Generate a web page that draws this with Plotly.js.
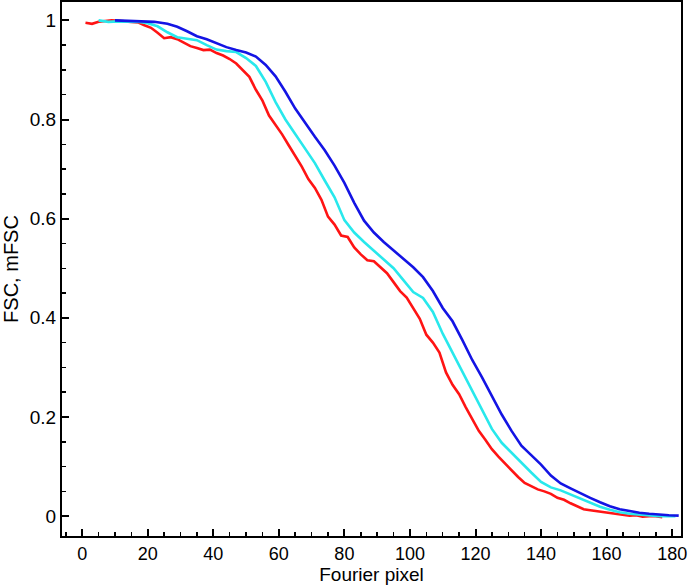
<!DOCTYPE html>
<html>
<head>
<meta charset="utf-8">
<script src="https://cdn.plot.ly/plotly-3.0.1.min.js"></script>
<style>
  html, body { margin: 0; padding: 0; background: #fff; }
  #fsc-plot { width: 688px; height: 586px; }
</style>
</head>
<body>
<div id="fsc-plot"></div>
<script>
// FSC (red), mFSC (cyan, blue)
var redX = [1,3,5,7,9,11,13,15,17,19,21,23,25,27,29,31,33,35,37,39,41,43,45,47,49,51,53,55,57,59,
  61,63,65,67,69,71,73,75,77,79,81,83,85,87,89,91,93,95,97,99,101,103,105,107,109,111,113,115,117,119,
  121,123,125,127,129,131,133,135,137,139,141,143,145,147,149,151,153,155,157,159,161,163,165,167,169,171,173,175,177];
var redY = [0.995,0.993,0.997,0.999,1.000,0.999,0.998,0.997,0.996,0.990,0.985,0.975,0.964,0.966,0.962,0.955,0.948,0.944,0.940,0.941,
  0.934,0.929,0.922,0.913,0.900,0.886,0.860,0.838,0.808,0.790,0.770,0.748,0.726,0.705,0.680,0.662,0.638,0.604,0.588,0.566,
  0.563,0.542,0.528,0.516,0.514,0.502,0.490,0.472,0.454,0.441,0.420,0.398,0.366,0.350,0.330,0.290,0.265,0.246,0.220,0.196,
  0.172,0.154,0.135,0.120,0.106,0.093,0.079,0.067,0.060,0.054,0.050,0.045,0.037,0.033,0.026,0.020,0.014,0.012,0.010,0.009,
  0.006,0.004,0.003,0.001,0.002,-0.001,0.000,0.000,-0.002];

var cyanX = [5,8,11,14,17,20,23,26,29,32,35,38,41,44,47,50,53,56,59,62,65,68,71,74,77,80,83,86,89,92,95,98,
  101,104,107,110,113,116,119,122,125,128,131,134,137,140,143,146,149,152,155,158,161,164,167,170,173,176,179,181];
var cyanY = [1.000,0.997,0.998,0.998,0.997,0.994,0.988,0.976,0.966,0.963,0.960,0.950,0.941,0.938,0.936,0.924,0.908,0.876,0.835,0.800,
  0.770,0.742,0.712,0.677,0.643,0.597,0.572,0.553,0.535,0.517,0.500,0.476,0.452,0.440,0.412,0.368,0.330,0.289,0.252,0.215,
  0.176,0.148,0.128,0.106,0.088,0.069,0.058,0.052,0.044,0.036,0.028,0.019,0.013,0.008,0.005,0.003,0.001,0.000,0.000,0.000];

var blueX = [10,14,18,22,26,29,32,35,38,41,44,47,50,53,56,59,62,65,68,71,74,77,80,83,86,89,92,95,98,
  101,104,107,110,113,116,119,122,125,128,131,134,137,140,143,146,149,152,155,158,161,164,167,170,173,176,179,182];
var blueY = [1.000,0.999,0.999,0.997,0.993,0.987,0.978,0.968,0.962,0.954,0.946,0.940,0.935,0.927,0.910,0.887,0.856,0.822,0.793,0.765,
  0.738,0.707,0.672,0.632,0.596,0.572,0.553,0.536,0.520,0.502,0.482,0.454,0.420,0.393,0.355,0.315,0.280,0.243,0.205,0.172,
  0.142,0.123,0.104,0.082,0.066,0.056,0.046,0.037,0.028,0.020,0.014,0.010,0.007,0.005,0.003,0.002,0.001];

var traces = [
  {x: redX, y: redY, type: "scatter", mode: "lines", line: {color: "rgb(255,20,20)", width: 2.6}},
  {x: cyanX, y: cyanY, type: "scatter", mode: "lines", line: {color: "rgb(40,232,236)", width: 2.6}},
  {x: blueX, y: blueY, type: "scatter", mode: "lines", line: {color: "rgb(20,20,228)", width: 2.6}}
];

var fontFam = "Liberation Sans, Arial, sans-serif";
var axisStyle = {
  showline: true, mirror: true, linecolor: "#000", linewidth: 2,
  showgrid: false, zeroline: false,
  ticks: "inside", ticklen: 7, tickwidth: 2, tickcolor: "#000",
  tickfont: {family: fontFam, size: 19, color: "#000"}
};

var layout = {
  width: 688, height: 586,
  margin: {l: 62, r: 7, t: 2, b: 50},
  paper_bgcolor: "#fff", plot_bgcolor: "#fff",
  showlegend: false,
  xaxis: Object.assign({}, axisStyle, {
    range: [-6.16, 182.7], tickvals: [0,20,40,60,80,100,120,140,160,180],
    ticklabeloverflow: "allow", ticklabelstandoff: 0,
    tickfont: {family: fontFam, size: 18, color: "#000"},
    minor: {ticks: "inside", dtick: 5, tick0: 0, ticklen: 4, tickwidth: 1.5, tickcolor: "#000"},
    title: {text: "Fourier pixel", standoff: 3, font: {family: fontFam, size: 19, color: "#000"}}
  }),
  yaxis: Object.assign({}, axisStyle, {
    range: [-0.040, 1.037], tickvals: [0,0.2,0.4,0.6,0.8,1], ticktext: ["0","0.2","0.4","0.6","0.8","1"],
    minor: {ticks: "inside", dtick: 0.05, tick0: 0, ticklen: 4, tickwidth: 1.5, tickcolor: "#000"},
    title: {text: "FSC, mFSC", standoff: 6, font: {family: fontFam, size: 20, color: "#000"}}
  })
};

Plotly.newPlot("fsc-plot", traces, layout, {staticPlot: true, displayModeBar: false});
</script>
</body>
</html>
